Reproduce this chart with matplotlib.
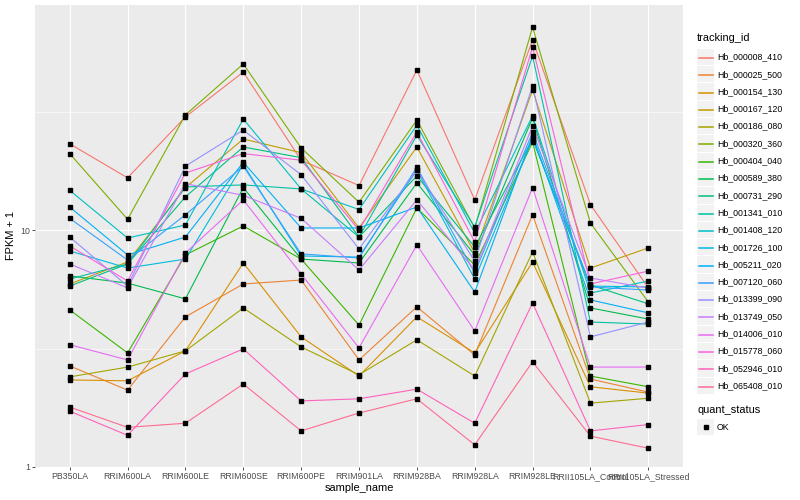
import matplotlib.pyplot as plt
from matplotlib.lines import Line2D
from matplotlib.patches import Rectangle
from matplotlib.ticker import NullFormatter

plt.rcParams['font.family'] = ['Liberation Sans', 'DejaVu Sans']

samples = ["PB350LA", "RRIM600LA", "RRIM600LE", "RRIM600SE", "RRIM600PE",
           "RRIM901LA", "RRIM928BA", "RRIM928LA", "RRIM928LE",
           "RRII105LA_Control", "RRII105LA_Stressed"]

tracking_ids = ["Hb_000008_410", "Hb_000025_500", "Hb_000154_130", "Hb_000167_120",
                "Hb_000186_080", "Hb_000320_360", "Hb_000404_040", "Hb_000589_380",
                "Hb_000731_290", "Hb_001341_010", "Hb_001408_120", "Hb_001726_100",
                "Hb_005211_020", "Hb_007120_060", "Hb_013399_090", "Hb_013749_050",
                "Hb_014006_010", "Hb_015778_060", "Hb_052946_010", "Hb_065408_010"]

# ggplot hue palette, 20 levels
colors = ["#F8766D", "#EA8331", "#D89000", "#C09B00", "#A3A500", "#7CAE00",
          "#39B600", "#00BB4E", "#00BF7D", "#00C1A3", "#00BFC4", "#00BAE0",
          "#00B0F6", "#35A2FF", "#9590FF", "#C77CFF", "#E76BF3", "#FA62DB",
          "#FF62BC", "#FF6C91"]

# FPKM + 1 per sample
hb_000008_410 = [23.1, 16.6, 30.0, 46.4, 19.7, 15.4, 47.3, 13.4, 63.4, 12.8, 5.7]
hb_000025_500 = [2.67, 2.11, 4.30, 5.92, 6.15, 2.83, 4.74, 2.97, 11.6, 2.35, 2.07]
hb_000154_130 = [2.33, 2.31, 3.09, 7.26, 3.54, 2.42, 4.30, 3.03, 7.33, 2.18, 2.05]
hb_000167_120 = [5.92, 7.33, 15.1, 24.2, 21.2, 10.2, 22.4, 8.00, 39.0, 6.91, 8.40]
hb_000186_080 = [2.40, 2.64, 3.09, 4.69, 3.21, 2.45, 3.44, 2.42, 8.08, 1.86, 1.95]
hb_000320_360 = [21.0, 11.1, 30.6, 50.2, 22.2, 13.1, 29.1, 10.2, 71.8, 10.7, 4.97]
hb_000404_040 = [4.60, 3.03, 7.85, 10.4, 7.54, 3.97, 12.4, 7.12, 23.5, 2.42, 2.18]
hb_000589_380 = [6.40, 5.97, 5.12, 15.1, 7.54, 7.26, 15.8, 7.85, 29.7, 4.69, 4.21]
hb_000731_290 = [5.80, 7.19, 13.8, 22.4, 20.2, 9.34, 16.9, 8.48, 24.2, 5.86, 4.88]
hb_001341_010 = [6.21, 7.19, 15.2, 15.5, 14.9, 9.34, 25.1, 10.3, 54.2, 4.09, 4.01]
hb_001408_120 = [14.7, 9.25, 10.5, 29.4, 14.9, 12.2, 27.7, 9.71, 30.3, 5.42, 6.09]
hb_001726_100 = [8.16, 6.91, 7.54, 18.9, 7.77, 7.69, 17.9, 6.21, 24.2, 5.80, 5.75]
hb_005211_020 = [12.5, 7.85, 9.34, 19.3, 10.2, 10.2, 12.5, 5.47, 25.1, 5.07, 4.47]
hb_007120_060 = [11.2, 7.47, 11.6, 18.6, 7.93, 7.62, 18.4, 6.59, 25.9, 5.75, 5.58]
hb_013399_090 = [9.34, 5.80, 18.6, 26.4, 17.1, 8.32, 17.9, 7.40, 40.5, 3.54, 4.09]
hb_013749_050 = [7.19, 5.70, 15.7, 14.0, 11.2, 6.78, 13.4, 6.78, 27.5, 6.27, 5.69]
hb_014006_010 = [3.28, 2.83, 8.00, 13.4, 6.52, 3.18, 8.65, 3.75, 15.1, 2.64, 2.64]
hb_015778_060 = [8.57, 6.09, 17.4, 21.0, 19.7, 10.0, 25.9, 8.91, 59.2, 5.92, 6.71]
hb_052946_010 = [1.72, 1.36, 2.47, 3.15, 1.90, 1.94, 2.13, 1.53, 4.92, 1.42, 1.51]
hb_065408_010 = [1.79, 1.47, 1.53, 2.24, 1.42, 1.69, 1.94, 1.24, 2.78, 1.35, 1.20]

series = [hb_000008_410, hb_000025_500, hb_000154_130, hb_000167_120, hb_000186_080,
          hb_000320_360, hb_000404_040, hb_000589_380, hb_000731_290, hb_001341_010,
          hb_001408_120, hb_001726_100, hb_005211_020, hb_007120_060, hb_013399_090,
          hb_013749_050, hb_014006_010, hb_015778_060, hb_052946_010, hb_065408_010]

W, H = 800, 500
fig = plt.figure(figsize=(W / 100, H / 100), dpi=100)
ax = fig.add_axes([35 / W, 33 / H, 648 / W, 462 / H])
ax.set_facecolor("#EBEBEB")

x = list(range(1, len(samples) + 1))
for vals, c in zip(series, colors):
    ax.plot(x, vals, color=c, lw=0.8, zorder=2)
for vals in series:
    ax.plot(x, vals, ls="none", marker="s", ms=2.3, color="black", zorder=3)

ax.set_yscale("log")
ax.set_xlim(0.4, 11.6)
ax.set_ylim(1.0, 89)
ax.set_xticks(x)
ax.set_xticklabels(samples)
ax.set_yticks([1, 10])
ax.set_yticklabels(["1", "10"])
ax.set_yticks([10 ** 0.5, 10 ** 1.5], minor=True)
ax.yaxis.set_minor_formatter(NullFormatter())
ax.tick_params(axis="y", which="minor", length=0)
ax.tick_params(axis="both", which="major", length=2, width=0.6, color="#333333",
               labelcolor="#4D4D4D", labelsize=6.3, pad=1.5)
ax.grid(which="major", color="white", lw=0.8)
ax.grid(which="minor", axis="y", color="white", lw=0.4)
ax.set_axisbelow(True)
for s in ax.spines.values():
    s.set_visible(False)

ax.set_xlabel("sample_name", fontsize=7.9, labelpad=1.5)
ax.set_ylabel("FPKM + 1", fontsize=7.9, labelpad=3)


# legends, drawn in pixel units of the figure
def fx(px):
    return px / W


def fy(py):
    return 1 - py / H


key_bg = "#F2F2F2"
kx, kw, kh, step = 697, 17, 16.3, 17.3

fig.text(fx(kx), fy(38), "tracking_id", fontsize=7.9, va="center", ha="left")
for i, (tid, c) in enumerate(zip(tracking_ids, colors)):
    yc = 57 + i * step
    fig.patches.append(Rectangle((fx(kx), fy(yc + kh / 2)), kw / W, kh / H,
                                 transform=fig.transFigure, facecolor=key_bg,
                                 edgecolor="none", zorder=1))
    fig.lines.append(Line2D([fx(kx + 1.5), fx(kx + kw - 1.5)], [fy(round(yc) + 0.5)] * 2,
                            transform=fig.transFigure, color=c, lw=1.1, zorder=3))
    fig.text(fx(kx + kw + 3), fy(yc), tid, fontsize=6.3, va="center", ha="left")

fig.text(fx(kx), fy(410), "quant_status", fontsize=7.9, va="center", ha="left")
fig.patches.append(Rectangle((fx(kx), fy(427 + kh / 2)), kw / W, kh / H,
                             transform=fig.transFigure, facecolor=key_bg, edgecolor="none"))
fig.lines.append(Line2D([fx(kx + kw / 2)], [fy(427)], transform=fig.transFigure,
                        ls="none", marker="s", ms=2.3, color="black", zorder=3))
fig.text(fx(kx + kw + 3), fy(427), "OK", fontsize=6.3, va="center", ha="left")

fig.savefig("out.png", dpi=100)
